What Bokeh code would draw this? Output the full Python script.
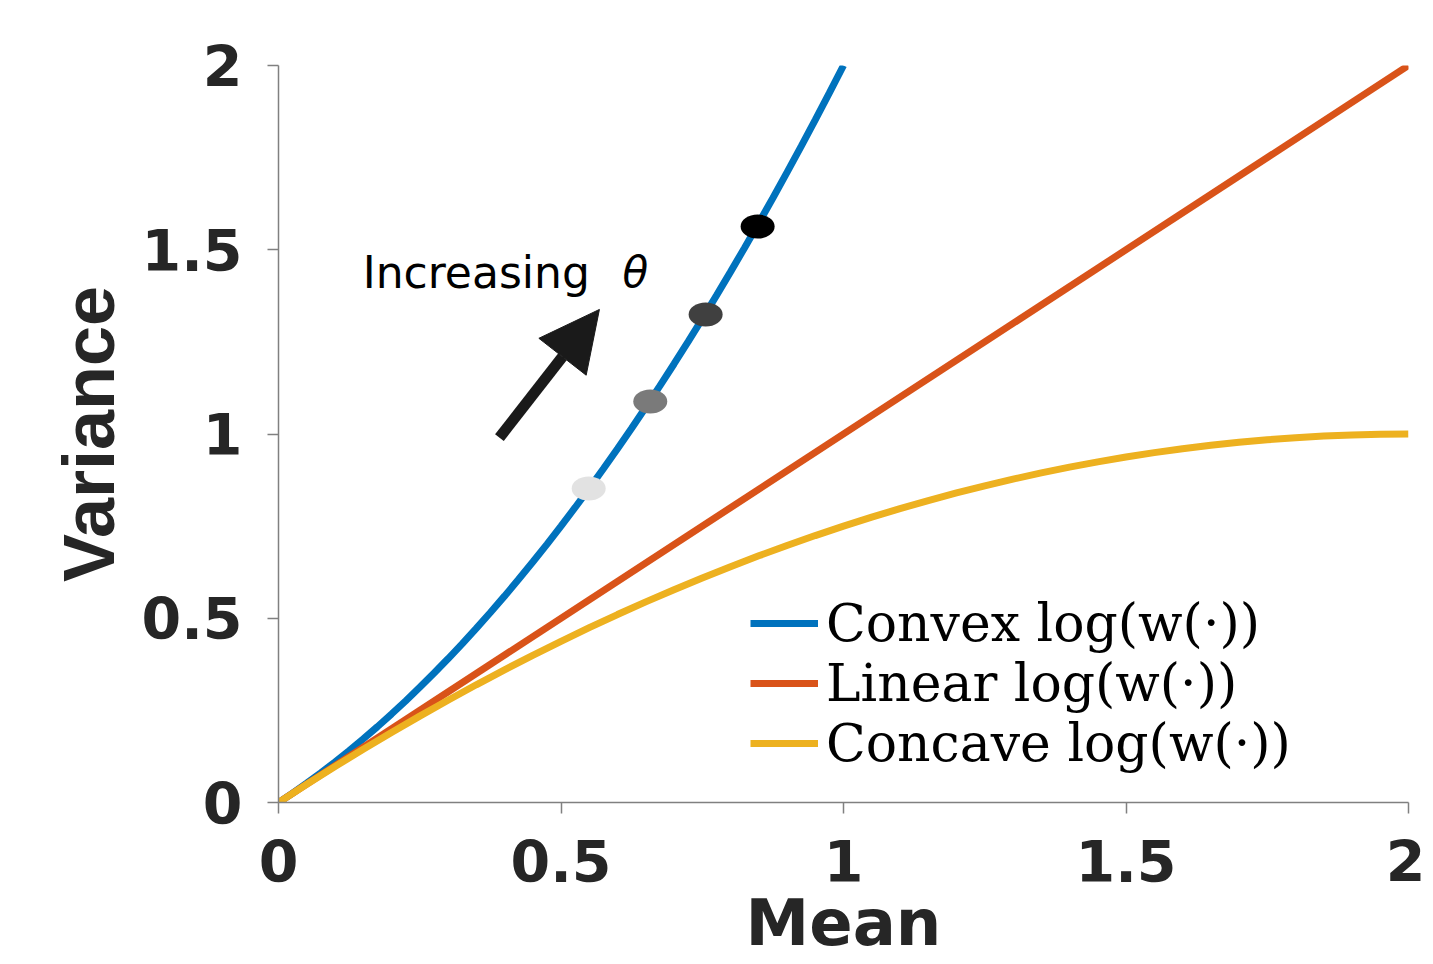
from bokeh.plotting import figure
from bokeh.models import Range1d, Legend, LegendItem, Arrow, NormalHead, FixedTicker
from bokeh.core.properties import value
from bokeh.embed import file_html
from bokeh.resources import INLINE

# Convex curve
convex_mean = [0.0, 0.025, 0.05, 0.075, 0.1, 0.125, 0.15, 0.175, 0.2, 0.225, 0.25,
               0.275, 0.3, 0.325, 0.35, 0.375, 0.4, 0.425, 0.45, 0.475, 0.5,
               0.525, 0.55, 0.575, 0.6, 0.625, 0.65, 0.675, 0.7, 0.725, 0.75,
               0.775, 0.8, 0.825, 0.85, 0.875, 0.9, 0.925, 0.95, 0.975, 1.0]
convex_var = [0.0, 0.0256, 0.0525, 0.0806, 0.11, 0.1406, 0.1725, 0.2056, 0.24, 0.2756, 0.3125,
              0.3506, 0.39, 0.4306, 0.4725, 0.5156, 0.56, 0.6056, 0.6525, 0.7006, 0.75,
              0.8006, 0.8525, 0.9056, 0.96, 1.0156, 1.0725, 1.1306, 1.19, 1.2506, 1.3125,
              1.3756, 1.44, 1.5056, 1.5725, 1.6406, 1.71, 1.7806, 1.8525, 1.9256, 2.0]

# Linear curve
linear_mean = [0.0, 2.0]
linear_var = [0.0, 2.0]

# Concave curve
concave_mean = [0.0, 0.05, 0.1, 0.15, 0.2, 0.25, 0.3, 0.35, 0.4, 0.45, 0.5,
                0.55, 0.6, 0.65, 0.7, 0.75, 0.8, 0.85, 0.9, 0.95, 1.0,
                1.05, 1.1, 1.15, 1.2, 1.25, 1.3, 1.35, 1.4, 1.45, 1.5,
                1.55, 1.6, 1.65, 1.7, 1.75, 1.8, 1.85, 1.9, 1.95, 2.0]
concave_var = [0.0, 0.0494, 0.0975, 0.1444, 0.19, 0.2344, 0.2775, 0.3194, 0.36, 0.3994, 0.4375,
               0.4744, 0.51, 0.5444, 0.5775, 0.6094, 0.64, 0.6694, 0.6975, 0.7244, 0.75,
               0.7744, 0.7975, 0.8194, 0.84, 0.8594, 0.8775, 0.8944, 0.91, 0.9244, 0.9375,
               0.9494, 0.96, 0.9694, 0.9775, 0.9844, 0.99, 0.9944, 0.9975, 0.9994, 1.0]

# Theta markers on convex curve
theta_mean = [0.549, 0.658, 0.756, 0.848]
theta_var = [0.852, 1.088, 1.324, 1.563]
theta_colors = ["#e2e2e2", "#7a7a7a", "#404040", "#000000"]

# Arrow
arrow_start = (0.391, 0.990)
arrow_end = (0.568, 1.338)

tick_values = [0, 0.5, 1, 1.5, 2]
tick_labels = {0: "0", 0.5: "0.5", 1: "1", 1.5: "1.5", 2: "2"}

series_names = ["Convex log(w(\u00b7))", "Linear log(w(\u00b7))", "Concave log(w(\u00b7))"]
series_colors = ["#0072BD", "#D95319", "#EDB120"]

p = figure(width=1425, height=964, output_backend="svg", toolbar_location=None,
           x_range=Range1d(0, 2), y_range=Range1d(0, 2),
           min_border_left=278, min_border_right=17, min_border_top=65, min_border_bottom=162)
p.outline_line_color = None
p.grid.visible = False
p.background_fill_color = "white"

r1 = p.line(convex_mean, convex_var, line_color=series_colors[0], line_width=7)
r2 = p.line(linear_mean, linear_var, line_color=series_colors[1], line_width=7)
r3 = p.line(concave_mean, concave_var, line_color=series_colors[2], line_width=7)

p.ellipse(theta_mean, theta_var, width=34, height=24, width_units="screen",
          height_units="screen", fill_color=theta_colors, line_color=None)

p.add_layout(Arrow(end=NormalHead(size=60, fill_color="#1a1a1a", line_color="#1a1a1a"),
                   x_start=arrow_start[0], y_start=arrow_start[1],
                   x_end=arrow_end[0], y_end=arrow_end[1],
                   line_width=11, line_color="#1a1a1a"))

p.text(x=[0.149], y=[1.438], text=["Increasing"], text_font=value("DejaVu Sans"),
       text_font_size="44px", text_color="black", text_baseline="alphabetic")
p.text(x=[0.609], y=[1.438], text=["\u03b8"], text_font=value("DejaVu Sans"),
       text_font_style="italic", text_font_size="42px", text_color="black",
       text_baseline="alphabetic")

for ax in (p.xaxis[0], p.yaxis[0]):
    ax.ticker = FixedTicker(ticks=tick_values)
    ax.major_label_overrides = tick_labels
    ax.minor_tick_line_color = None
    ax.major_tick_in = 0
    ax.major_tick_out = 11
    ax.axis_line_color = "#808080"
    ax.axis_line_width = 1.5
    ax.major_tick_line_color = "#808080"
    ax.major_tick_line_width = 1.5
    ax.major_label_text_font = "DejaVu Sans"
    ax.major_label_text_font_style = "bold"
    ax.major_label_text_font_size = "57px"
    ax.major_label_text_color = "#262626"
    ax.axis_label_text_font_style = "bold"
    ax.axis_label_text_color = "#262626"

p.xaxis.axis_label = "Mean"
p.yaxis.axis_label = "Variance"
p.xaxis.axis_label_text_font = "DejaVu Sans"
p.xaxis.axis_label_text_font_size = "64px"
p.yaxis.axis_label_text_font = "Liberation Sans"
p.yaxis.axis_label_text_font_size = "72px"
p.xaxis.major_label_standoff = 26
p.yaxis.major_label_standoff = 25
p.xaxis.axis_label_standoff = 1
p.yaxis.axis_label_standoff = 10

legend = Legend(items=[LegendItem(label=series_names[0], renderers=[r1]),
                       LegendItem(label=series_names[1], renderers=[r2]),
                       LegendItem(label=series_names[2], renderers=[r3])],
                location=(472, 29), border_line_color=None,
                background_fill_alpha=0, label_text_font="DejaVu Serif",
                label_text_font_size="52px", label_text_color="black",
                glyph_width=68, glyph_height=56,
                label_standoff=8, spacing=0, padding=0, margin=0,
                label_height=56)
p.add_layout(legend)

open("out.html", "w").write(file_html(p, INLINE))
